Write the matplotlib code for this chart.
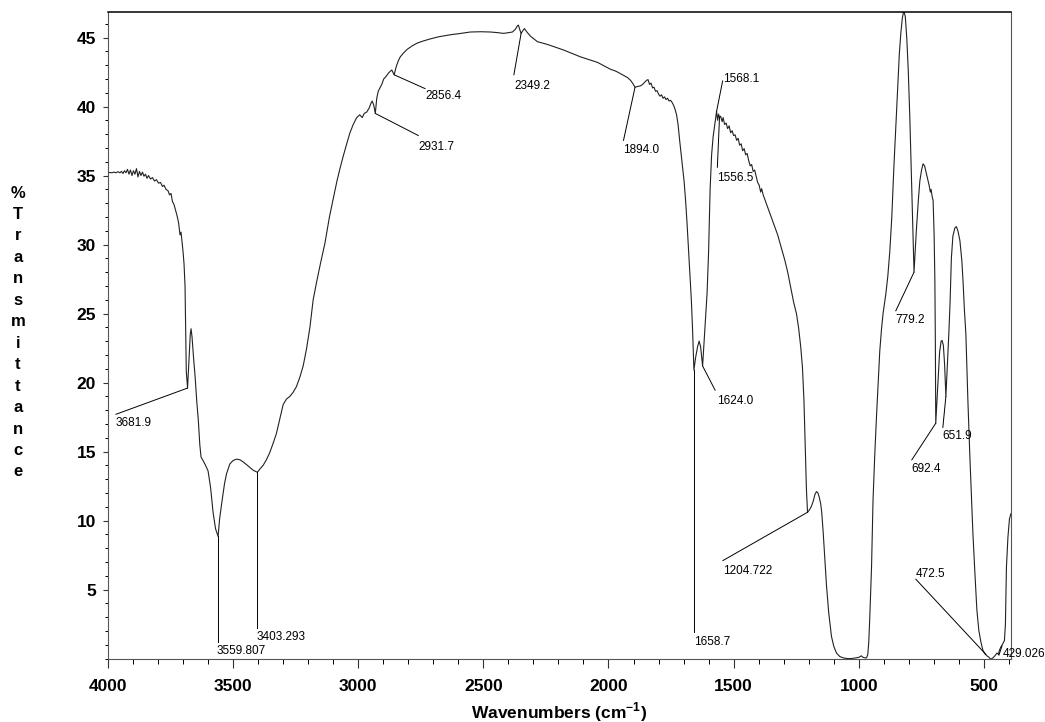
import numpy as np
import matplotlib.pyplot as plt
from matplotlib.ticker import MultipleLocator

plt.rcParams['font.family'] = ['Liberation Sans', 'DejaVu Sans']
plt.rcParams['mathtext.fontset'] = 'custom'
plt.rcParams['mathtext.rm'] = 'Liberation Sans:bold'
plt.rcParams['mathtext.bf'] = 'Liberation Sans:bold'

# spectrum (wavenumber cm-1, %T)
wavenumber = [
    4000, 3992, 3984, 3976, 3968, 3960, 3952, 3946, 3940, 3934, 3928, 3922, 3916, 3910,
    3904, 3898, 3892, 3886, 3880, 3874, 3868, 3862, 3856, 3850, 3844, 3838, 3830, 3822,
    3814, 3806, 3798, 3790, 3782, 3776, 3768, 3760, 3754, 3748, 3742, 3736, 3730, 3724,
    3718, 3712, 3708, 3704, 3700, 3696, 3692, 3690, 3687, 3681.9, 3676, 3671, 3668, 3664,
    3658, 3652, 3645, 3639, 3633, 3628, 3620, 3610, 3600, 3590, 3580, 3570, 3559.8, 3554,
    3548, 3542, 3534, 3526, 3513, 3500, 3486, 3472, 3460, 3446, 3433, 3420, 3403.3, 3392,
    3380, 3367, 3354, 3340, 3327, 3313, 3300, 3287, 3273, 3260, 3247, 3233, 3220, 3207,
    3193, 3180, 3165, 3150, 3133, 3115, 3100, 3085, 3073, 3060, 3046, 3033, 3020, 3006,
    2994, 2984, 2976, 2966, 2956, 2950, 2944, 2938, 2931.7, 2926, 2920, 2912, 2906, 2898,
    2888, 2878, 2866, 2856.4, 2848, 2840, 2832, 2818, 2804, 2784, 2764, 2740, 2712, 2680,
    2632, 2590, 2552, 2510, 2472, 2440, 2420, 2400, 2384, 2372, 2364, 2360, 2355, 2349.2,
    2342, 2336, 2326, 2312, 2298, 2284, 2264, 2244, 2212, 2180, 2146, 2112, 2078, 2044,
    2018, 1992, 1976, 1964, 1944, 1924, 1912, 1904, 1894, 1884, 1872, 1864, 1856, 1848,
    1842, 1836, 1830, 1824, 1818, 1812, 1806, 1800, 1794, 1788, 1782, 1776, 1770, 1764,
    1758, 1752, 1746, 1740, 1734, 1728, 1722, 1716, 1710, 1704, 1698, 1692, 1686, 1680,
    1674, 1669, 1664, 1658.7, 1652, 1644, 1638, 1632, 1624, 1618, 1612, 1606, 1600, 1594,
    1588, 1582, 1576, 1572, 1568.1, 1564, 1560, 1556.5, 1552, 1546, 1542, 1536, 1530, 1524,
    1518, 1512, 1506, 1500, 1494, 1488, 1482, 1476, 1470, 1464, 1458, 1452, 1446, 1440,
    1434, 1428, 1422, 1416, 1410, 1404, 1398, 1392, 1388, 1382, 1370, 1356, 1340, 1324,
    1310, 1296, 1284, 1272, 1260, 1249, 1240, 1232, 1225, 1219, 1214, 1209, 1204.7, 1198,
    1190, 1182, 1175, 1169, 1163, 1158, 1152, 1148, 1142, 1136, 1129, 1120, 1109, 1100,
    1089, 1076, 1062, 1045, 1030, 1012, 998, 990, 984, 975, 969, 964, 960, 956,
    949, 943, 936, 929, 922, 916, 909, 903, 892, 884, 876, 868, 860, 852,
    844, 838, 832, 826, 820, 814, 808, 802, 796, 790, 785, 779.2, 770, 762,
    756, 749, 743, 737, 730, 724, 719, 714, 711, 707, 703, 699, 696, 694,
    692.4, 688, 682, 677, 671, 667, 662, 657, 651.9, 646, 640, 635, 630, 624,
    616, 610, 604, 596, 588, 583, 578, 572, 564, 556, 550, 544, 536, 528,
    520, 512, 504, 496, 488, 480, 472.5, 464, 456, 448, 442, 438, 432, 428,
    424, 418, 414, 410, 404, 398, 392,
]
transmittance = [
    35.2, 35.22, 35.2, 35.25, 35.2, 35.28, 35.2, 35.3, 35.15, 35.35, 35.2, 35.45, 35.1, 35.4,
    35.0, 35.35, 35.1, 35.5, 34.9, 35.3, 35.0, 35.25, 34.95, 35.1, 34.8, 35.0, 34.75, 34.85,
    34.6, 34.7, 34.45, 34.5, 34.2, 34.3, 34.0, 33.9, 33.6, 33.7, 33.1, 32.9, 32.5, 32.1,
    31.6, 30.7, 30.9, 30.2, 29.5, 28.6, 27.0, 24.5, 20.8, 19.6, 21.8, 23.5, 23.9, 23.3,
    21.8, 20.5, 18.6, 17.3, 15.5, 14.6, 14.35, 14.0, 13.6, 12.4, 10.6, 9.4, 8.85, 10.1,
    10.9, 11.7, 12.7, 13.4, 14.1, 14.35, 14.45, 14.4, 14.25, 14.05, 13.85, 13.65, 13.5, 13.75,
    14.0, 14.4, 14.9, 15.6, 16.3, 17.4, 18.4, 18.8, 19.0, 19.3, 19.7, 20.4, 21.2, 22.4,
    24.0, 26.0, 27.4, 28.7, 30.1, 32.0, 33.3, 34.6, 35.5, 36.4, 37.3, 38.1, 38.7, 39.2,
    39.4, 39.2, 39.5, 39.6, 39.9, 40.2, 40.4, 40.1, 39.5, 40.6, 41.1, 41.4, 41.6, 42.0,
    42.2, 42.45, 42.65, 42.3, 42.9, 43.3, 43.6, 43.9, 44.15, 44.4, 44.6, 44.75, 44.9, 45.05,
    45.2, 45.3, 45.4, 45.42, 45.4, 45.35, 45.3, 45.35, 45.4, 45.6, 45.85, 45.9, 45.6, 45.3,
    45.5, 45.65, 45.4, 45.1, 44.9, 44.7, 44.6, 44.5, 44.3, 44.1, 43.85, 43.6, 43.4, 43.2,
    42.95, 42.7, 42.6, 42.5, 42.3, 42.1, 41.9, 41.7, 41.4, 41.45, 41.5, 41.6, 41.75, 41.9,
    41.95, 41.6, 41.7, 41.35, 41.4, 41.1, 41.15, 40.9, 40.75, 40.85, 40.6, 40.7, 40.5, 40.6,
    40.4, 40.45, 40.3, 40.1, 39.8, 39.4, 38.7, 37.6, 36.6, 35.6, 34.6, 33.2, 31.5, 29.6,
    27.7, 26.0, 23.8, 20.9, 21.8, 22.6, 23.0, 22.6, 21.2, 23.0, 24.8, 26.5, 29.5, 34.0,
    36.5, 37.8, 38.6, 39.1, 39.65, 39.0, 39.45, 39.2, 39.3, 38.9, 39.2, 38.7, 38.8, 38.4,
    38.6, 38.1, 38.25, 37.9, 37.95, 37.55, 37.7, 37.2, 37.3, 36.8, 36.95, 36.5, 36.6, 36.1,
    35.7, 35.8, 35.3, 35.4, 34.95, 34.5, 34.3, 33.8, 34.05, 33.6, 33.0, 32.3, 31.5, 30.7,
    29.8, 28.9, 28.0, 26.9, 25.8, 25.0, 23.9, 22.6, 21.1, 18.7, 15.5, 12.2, 10.6, 10.75,
    11.0, 11.4, 11.9, 12.1, 12.0, 11.7, 11.2, 10.6, 9.1, 7.3, 5.3, 3.3, 1.6, 0.9,
    0.4, 0.15, 0.05, 0.0, 0.0, 0.05, 0.1, 0.2, 0.1, 0.05, 0.05, 0.3, 1.2, 3.0,
    6.6, 11.5, 14.8, 17.6, 20.2, 22.3, 23.9, 25.0, 26.4, 27.7, 29.5, 32.0, 35.5, 38.5,
    41.6, 43.8, 45.3, 46.4, 46.95, 46.5, 44.9, 42.5, 39.2, 35.3, 32.2, 28.0, 31.0, 33.2,
    34.6, 35.4, 35.85, 35.7, 35.15, 34.7, 34.3, 33.8, 34.0, 33.5, 33.2, 30.8, 27.5, 23.0,
    17.05, 18.5, 20.6, 22.2, 23.0, 23.05, 22.7, 21.3, 19.0, 21.2, 23.6, 25.9, 29.0, 30.6,
    31.2, 31.3, 31.0, 30.3, 28.8, 27.2, 25.3, 23.5, 18.7, 14.6, 11.8, 9.1, 6.2, 3.5,
    2.0, 1.2, 0.6, 0.35, 0.2, 0.1, -0.05, 0.05, 0.2, 0.4, 0.3, 0.6, 0.85, 0.95,
    1.1, 1.3, 2.5, 6.6, 8.8, 10.1, 10.5,
]

# peak labels: point on curve, end of leader line, text baseline-left
peak_labels = ['3681.9', '3559.807', '3403.293', '2931.7', '2856.4', '2349.2', '1894.0',
               '1568.1', '1556.5', '1658.7', '1624.0', '1204.722', '779.2', '692.4',
               '651.9', '472.5', '429.026']
peak_x = [3681.9, 3559.8, 3403.3, 2931.7, 2856.4, 2349.2, 1894.0,
          1568.1, 1556.5, 1658.7, 1624.0, 1204.7, 779.2, 692.4, 651.9, 492, 440]
peak_y = [19.6, 8.85, 13.5, 39.5, 42.3, 45.3, 41.4,
          39.65, 39.2, 20.9, 21.2, 10.6, 28.0, 17.05, 19.0, 0.3, 0.25]
line_x = [3968, 3559.8, 3403.3, 2760, 2733, 2378, 1940,
          1544, 1565, 1658.7, 1574, 1543, 852, 788, 664, 772, 428]
line_y = [17.7, 1.2, 2.2, 37.9, 41.3, 42.3, 37.55,
          41.85, 35.6, 1.9, 19.45, 7.1, 25.2, 14.4, 16.75, 5.75, 0.9]
text_x = [3970, 3566, 3406, 2760, 2733, 2377, 1940,
          1544, 1568, 1658, 1568, 1543, 852, 790, 666, 774, 424]
text_y = [16.83, 0.31, 1.33, 36.83, 40.58, 41.3, 36.6,
          41.8, 34.6, 0.96, 18.48, 6.16, 24.3, 13.5, 15.94, 5.9, 0.12]

fig = plt.figure(figsize=(10.45, 7.22), dpi=100)
ax = fig.add_axes([0.1033, 0.0869, 0.8641, 0.8961])

ax.plot(wavenumber, transmittance, color='#222222', lw=0.8)

for i in range(len(peak_labels)):
    ax.plot([peak_x[i], line_x[i]], [peak_y[i], line_y[i]], color='black', lw=0.7)
    ax.text(text_x[i], text_y[i], peak_labels[i], fontsize=8.5, ha='left', va='baseline')

ax.set_xlim(4000, 392)
ax.set_ylim(-0.05, 46.83)

ax.set_xticks([4000, 3500, 3000, 2500, 2000, 1500, 1000, 500])
ax.xaxis.set_minor_locator(MultipleLocator(100))
ax.set_yticks(np.arange(5, 46, 5))
ax.yaxis.set_minor_locator(MultipleLocator(1))
ax.tick_params(axis='x', which='major', length=6.5, width=0.8, pad=8, labelsize=12.5)
ax.tick_params(axis='x', which='minor', length=3.5, width=0.7)
ax.tick_params(axis='y', which='major', length=3.5, width=0.8, pad=5, labelsize=12.5)
ax.tick_params(axis='y', which='minor', length=2.5, width=0.7)
ax.tick_params(top=False, right=False, colors='#333333')
for lbl in ax.get_xticklabels() + ax.get_yticklabels():
    lbl.set_fontweight('bold')
    lbl.set_color('black')

for side in ['left', 'bottom', 'right']:
    ax.spines[side].set_color('#555555')
    ax.spines[side].set_linewidth(0.8)
ax.spines['top'].set_color('black')
ax.spines['top'].set_linewidth(1.1)

# stacked y label
ylabel = '%Transmittance'
for i, ch in enumerate(ylabel):
    fig.text(18 / 1045, 1 - (193 + i * 21.46) / 722, ch, fontsize=12,
             fontweight='bold', ha='center', va='center')

fig.text(559 / 1045, 1 - 712 / 722, r'Wavenumbers (cm$^{\mathbf{-1}}$)',
         fontsize=12.5, fontweight='bold', ha='center', va='center')

fig.savefig('out.png', dpi=100)
